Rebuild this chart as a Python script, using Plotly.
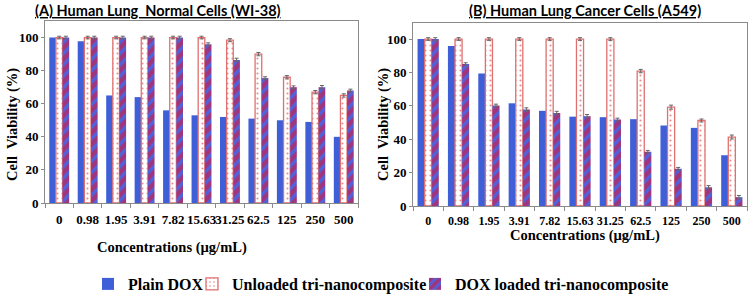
import plotly.graph_objects as go

categories = ["0", "0.98", "1.95", "3.91", "7.82", "15.63", "31.25", "62.5", "125", "250", "500"]

# Panel A: Human Lung Normal Cells (WI-38)
a_plain = [100, 97.7, 65, 64, 56, 53, 52, 51, 50, 49, 40]
a_unloaded = [100, 100, 100, 100, 100, 100, 98.4, 90, 76, 67, 65]
a_loaded = [100, 100, 100, 100, 100, 96, 86.5, 75.5, 70, 70, 68]
a_err_unloaded = [0.8, 0.8, 0.8, 0.8, 0.8, 0.8, 0.9, 1.0, 1.0, 1.0, 1.0]
a_err_loaded = [0.8, 0.8, 0.8, 0.8, 0.8, 0.8, 1.0, 0.8, 0.8, 1.0, 0.8]

# Panel B: Human Lung Cancer Cells (A549)
b_plain = [100, 95.8, 79.4, 61.5, 57, 53.5, 53.2, 52, 48.2, 46.8, 30.4]
b_unloaded = [100, 100, 100, 100, 100, 100, 100, 80.8, 59.2, 51.2, 41.3]
b_loaded = [100, 85, 60.2, 57.8, 55.7, 53.8, 51.8, 32.5, 22.3, 11.2, 5.3]
b_err_unloaded = [0.8, 0.8, 0.8, 0.8, 0.8, 0.8, 0.8, 1.0, 1.2, 0.9, 1.2]
b_err_loaded = [0.8, 0.8, 0.8, 1.0, 1.0, 1.0, 0.8, 0.8, 0.8, 1.0, 1.0]

y_ticks = [0, 20, 40, 60, 80, 100]

BLUE = "#3f5fd8"
RED = "#ee0a22"
STRIPE_BG = "#4f62dc"
PINK = "#e07070"
SERIF = "Liberation Serif, Times New Roman, serif"

W, H = 750, 295


def px(X):
    return X / W


def py(Y):
    return 1 - Y / H


fig = go.Figure()


def add_panel(plain, unloaded, loaded, err_u, err_l, xa, ya, show):
    fig.add_trace(go.Bar(
        x=categories, y=plain, name="Plain DOX", xaxis=xa, yaxis=ya,
        marker=dict(color=BLUE, line=dict(width=0)),
        legend="legend", showlegend=show,
    ))
    fig.add_trace(go.Bar(
        x=categories, y=unloaded, name="Unloaded tri-nanocomposite", xaxis=xa, yaxis=ya,
        marker=dict(color="white", line=dict(color=PINK, width=1.3),
                    pattern=dict(shape=".", fgcolor="#d02020", bgcolor="white",
                                 size=5, solidity=0.15, fillmode="overlay")),
        error_y=dict(type="data", array=err_u, color="#666666", thickness=1, width=2),
        legend="legend2", showlegend=show,
    ))
    fig.add_trace(go.Bar(
        x=categories, y=loaded, name="DOX loaded tri-nanocomposite", xaxis=xa, yaxis=ya,
        marker=dict(color=STRIPE_BG, line=dict(width=0),
                    pattern=dict(shape="/", fgcolor=RED, bgcolor=STRIPE_BG,
                                 size=8, solidity=0.6)),
        error_y=dict(type="data", array=err_l, color="#666666", thickness=1, width=2),
        legend="legend3", showlegend=show,
    ))


add_panel(a_plain, a_unloaded, a_loaded, a_err_unloaded, a_err_loaded, "x", "y", True)
add_panel(b_plain, b_unloaded, b_loaded, b_err_unloaded, b_err_loaded, "x2", "y2", False)


def xaxis_style(size, standoff):
    return dict(type="category", range=[-0.5, 10.5], showline=True, linecolor="#8a8a8a",
                linewidth=1, mirror=True, ticks="outside", tickson="boundaries",
                ticklen=4, tickcolor="#8a8a8a", ticklabelstandoff=standoff,
                tickfont=dict(family=SERIF, size=size, color="black", weight="bold"),
                showgrid=False, tickangle=0, fixedrange=True)


common_y = dict(showline=True, linecolor="#8a8a8a", linewidth=1, mirror=True,
                ticks="outside", ticklen=3, tickcolor="#8a8a8a",
                tickfont=dict(family=SERIF, size=13, color="black", weight="bold"),
                tickvals=y_ticks, showgrid=False, zeroline=False, fixedrange=True)

legend_font = dict(family=SERIF, size=16, color="black", weight="bold")
leg_common = dict(orientation="h", xanchor="left", yanchor="middle", y=py(284),
                  font=legend_font, itemwidth=30, bgcolor="rgba(0,0,0,0)",
                  borderwidth=0)

fig.update_layout(
    width=W, height=H,
    margin=dict(l=0, r=0, t=0, b=0, autoexpand=False),
    paper_bgcolor="white", plot_bgcolor="white",
    barmode="group", bargap=0.3, bargroupgap=0,
    xaxis=dict(domain=[px(45), px(358)], anchor="y", **xaxis_style(13, 4)),
    yaxis=dict(domain=[py(203), py(21)], anchor="x", range=[0, 110], **common_y),
    xaxis2=dict(domain=[px(413), px(747)], anchor="y2", **xaxis_style(12, 4)),
    yaxis2=dict(domain=[py(206), py(23)], anchor="x2", range=[0, 109.6], **common_y),
    legend=dict(x=px(108 - 20), **leg_common),
    legend2=dict(x=px(212 - 20), **leg_common),
    legend3=dict(x=px(435 - 20), **leg_common),
    showlegend=True,
)

title_font = dict(family="Lato", size=14.5, color="black", weight="bold")
axis_title_font = dict(family=SERIF, size=14.5, color="black", weight="bold")
ann = [
    dict(text="<u>(A) Human Lung  Normal Cells (WI-38)</u>", x=px(158), y=py(10),
         font=title_font),
    dict(text="<u>(B) Human Lung Cancer Cells (A549)</u>", x=px(585), y=py(10),
         font=title_font),
    dict(text="Concentrations (µg/mL)", x=px(172), y=py(247), font=axis_title_font),
    dict(text="Concentrations (µg/mL)", x=px(585), y=py(235), font=axis_title_font),
    dict(text="Cell  Viability (%)", x=px(12), y=py(125), textangle=-90, font=axis_title_font),
    dict(text="Cell  Viability (%)", x=px(383), y=py(125), textangle=-90, font=axis_title_font),
]
for a in ann:
    fig.add_annotation(xref="paper", yref="paper", showarrow=False,
                       xanchor="center", yanchor="middle", **a)

fig.write_html(
    "out.html",
    config={"displayModeBar": False},
    post_script="document.body.style.margin='0';document.body.style.overflow='hidden';",
)
